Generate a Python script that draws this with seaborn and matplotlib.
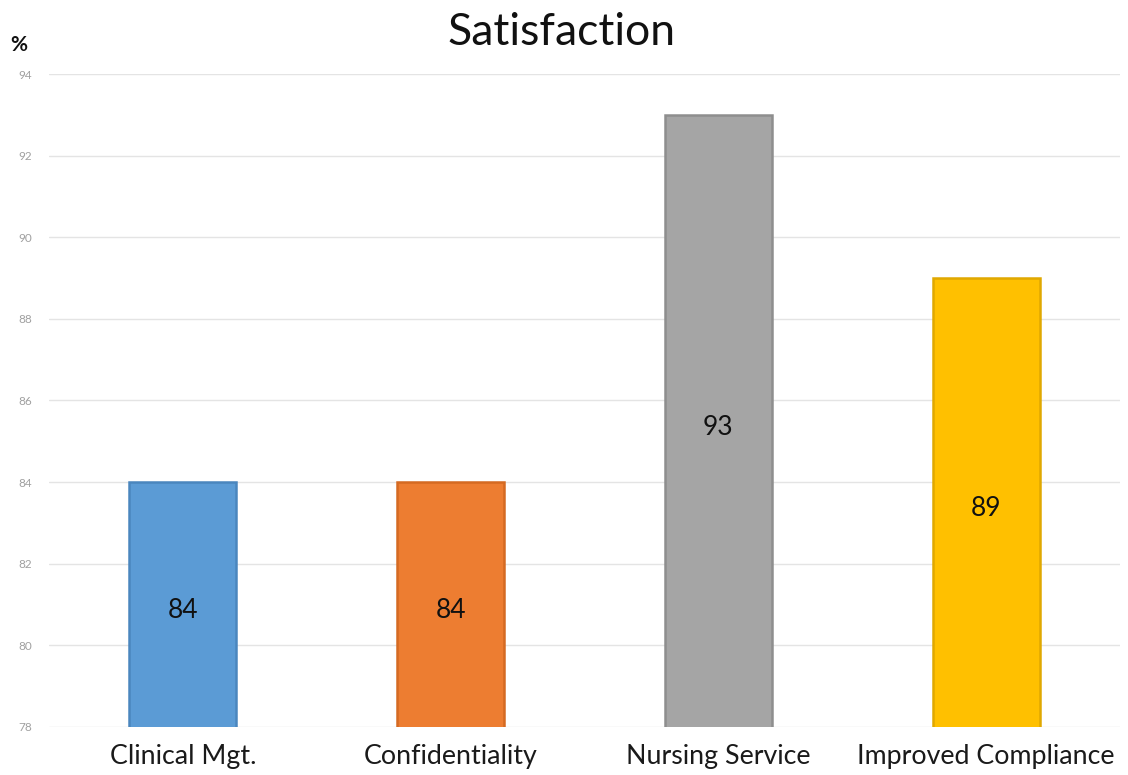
import matplotlib
matplotlib.use("Agg")
import matplotlib.pyplot as plt
import seaborn as sns
import pandas as pd

categories = ["Clinical Mgt.", "Confidentiality", "Nursing Service", "Improved Compliance"]
values = [84, 84, 93, 89]
colors = ["#5B9BD5", "#ED7D31", "#A5A5A5", "#FFC000"]
edge_colors = ["#4A86BE", "#D56A22", "#8E8E8E", "#E0A800"]
y_ticks = [78, 80, 82, 84, 86, 88, 90, 92, 94]

sns.set_theme(style="white")
plt.rcParams["font.family"] = ["Lato", "DejaVu Sans"]

df = pd.DataFrame({"category": categories, "value": values})

fig = plt.figure(figsize=(11.28, 7.75), dpi=100)
ax = fig.add_axes([0.0434, 0.062, 0.9496, 0.8425])

sns.barplot(data=df, x="category", y="value", hue="category", palette=colors,
            width=0.4, legend=False, ax=ax, saturation=1, bottom=0)

ymin = y_ticks[0]
for patch, ec in zip(ax.patches, edge_colors):
    patch.set_edgecolor(ec)
    patch.set_linewidth(1.8)

ax.set_ylim(y_ticks[0], y_ticks[-1])
ax.set_xlim(-0.5, len(categories) - 0.5)
ax.set_yticks(y_ticks)
ax.set_yticklabels([str(t) for t in y_ticks], fontsize=8.5, color="#A0A0A0")
ax.tick_params(axis="y", length=0, pad=12)
ax.tick_params(axis="x", length=0, pad=12, labelsize=19.3, labelcolor="#1A1A1A")
ax.yaxis.grid(True, color="#E4E4E4", linewidth=1)
ax.set_axisbelow(True)
for s in ax.spines.values():
    s.set_visible(False)
ax.set_xlabel("")
ax.set_ylabel("")

for i, v in enumerate(values):
    ax.text(i, (ymin + v) / 2 - 0.15, str(v), ha="center", va="center",
            fontsize=19, color="#111111")

fig.text(0.498, 0.958, "Satisfaction", ha="center", va="center",
         fontsize=32, color="#111111")
fig.text(0.009, 0.942, "%", ha="left", va="center", fontsize=15,
         fontweight="bold", color="#111111")

fig.savefig("out.png", dpi=100)
